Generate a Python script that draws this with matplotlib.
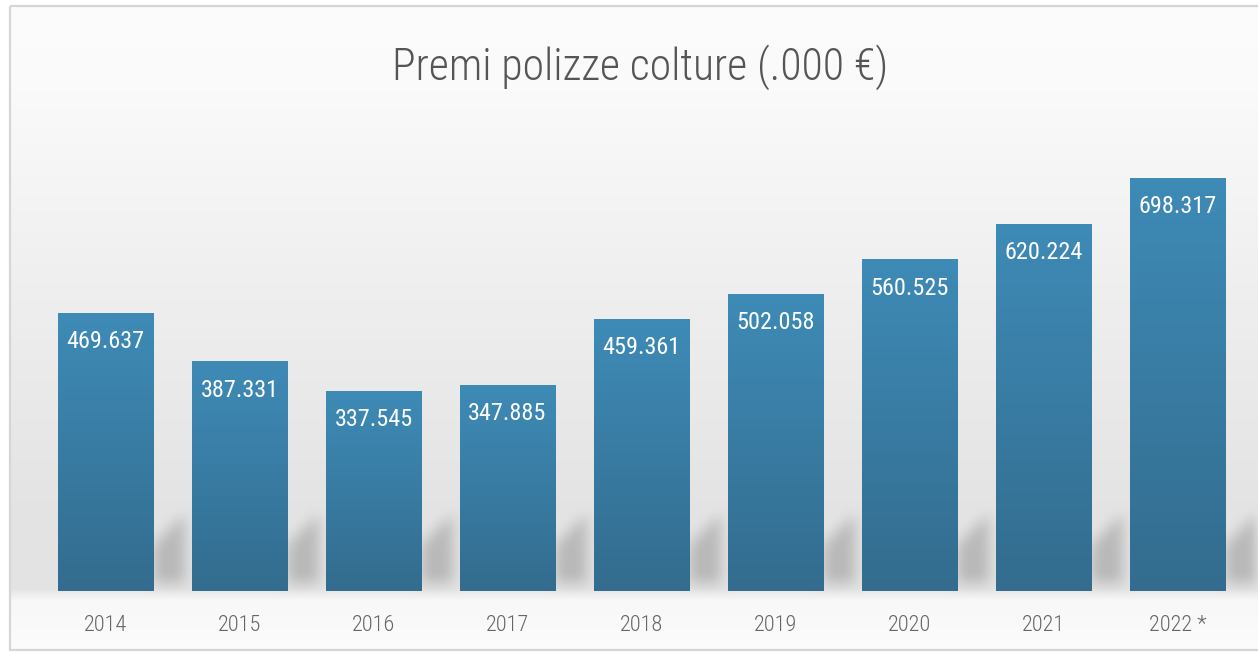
import numpy as np
import matplotlib
matplotlib.use("Agg")
import matplotlib.pyplot as plt
from matplotlib import font_manager
from matplotlib.patches import Rectangle
from matplotlib.colors import LinearSegmentedColormap

years = ["2014", "2015", "2016", "2017", "2018", "2019", "2020", "2021", "2022 *"]
premi = [469.637, 387.331, 337.545, 347.885, 459.361, 502.058, 560.525, 620.224, 698.317]
title = "Premi polizze colture (.000 \u20ac)"

W, H = 1258, 653
names = {f.name for f in font_manager.fontManager.ttflist}
narrow = next((n for n in ["Liberation Sans Narrow", "Roboto Condensed", "Open Sans Condensed"]
               if n in names), "DejaVu Sans")

fig = plt.figure(figsize=(W / 100, H / 100), dpi=100)

# main axes: x -0.5..8.5 spans px 38.5..1244.5, y=0 at px 591 from top
ax = fig.add_axes([38.5 / W, 62 / H, 1206 / W, 473.1 / H])
ax.set_xlim(-0.5, len(years) - 0.5)
ax.set_ylim(0, 800)
ax.patch.set_alpha(0)
for s in ax.spines.values():
    s.set_visible(False)

x = np.arange(len(years))
bw = 0.71
bars = ax.bar(x, premi, width=bw, color="#3a7ea6", zorder=2)

# vertical gradient inside every bar
grad_cmap = LinearSegmentedColormap.from_list("bar", ["#336c8e", "#3e8bb7"])
grad = np.linspace(0, 1, 256)[:, None]
for xi, v in zip(x, premi):
    ax.imshow(grad, cmap=grad_cmap, origin="lower", aspect="auto",
              extent=(xi - bw / 2, xi + bw / 2, 0, v), zorder=3)
ax.set_xlim(-0.5, len(years) - 0.5)
ax.set_ylim(0, 800)

for xi, v in zip(x, premi):
    ax.annotate(f"{v:.3f}", (xi, v), xytext=(0, -17), textcoords="offset pixels",
                ha="center", va="top", color="white", fontsize=17.5,
                family=narrow, zorder=4)

ax.set_yticks([])
ax.set_xticks(x)
ax.set_xticklabels(years, family=narrow, fontsize=16, color="#666666", fontweight="light")
ax.tick_params(axis="x", length=0, pad=17)

# background: grey gradient plus soft shadows behind the bars
yy = np.arange(H, dtype=float)
prof = np.interp(yy, [0, 90, 300, 500, 588, 600, 653], [252, 250, 238, 228, 227, 248, 252])
bg = np.repeat(prof[:, None], W, axis=1)

mask = np.zeros((H, W))
base = 583
for xi, v in zip(x, premi):
    r = ax.transData.transform((xi + bw / 2, 0))[0]
    for c in range(int(r), min(W, int(r) + 32)):
        top = 545 - (c - r) * 1.0
        mask[int(top):base, c] = 1.0


def box_blur(a, k):
    ker = np.ones(k) / k
    a = np.apply_along_axis(lambda m: np.convolve(m, ker, mode="same"), 0, a)
    return np.apply_along_axis(lambda m: np.convolve(m, ker, mode="same"), 1, a)


mask = box_blur(box_blur(mask, 17), 13)
bg = bg - mask * 42
rgb = np.clip(np.dstack([bg, bg, bg]) / 255.0, 0, 1)

bgax = fig.add_axes([0, 0, 1, 1], zorder=-1)
bgax.imshow(rgb, extent=(0, W, H, 0), aspect="auto")
bgax.set_xlim(0, W)
bgax.set_ylim(H, 0)
bgax.axis("off")
# white outside the frame, light grey frame line
bgax.add_patch(Rectangle((0, 0), W, 5, color="white", zorder=2))
bgax.add_patch(Rectangle((0, 0), 9, H, color="white", zorder=2))
bgax.add_patch(Rectangle((0, 650), W, 3, color="white", zorder=2))
bgax.add_patch(Rectangle((9.5, 5.5), W + 10, 644, fill=False, ec="#d6d6d6", lw=1.6, zorder=3))

fig.text(640 / W, 1 - 80 / H, title, ha="center", va="baseline", fontsize=31.5,
         color="#555555", family=narrow, fontweight="light")

fig.savefig("out.png", dpi=100)
